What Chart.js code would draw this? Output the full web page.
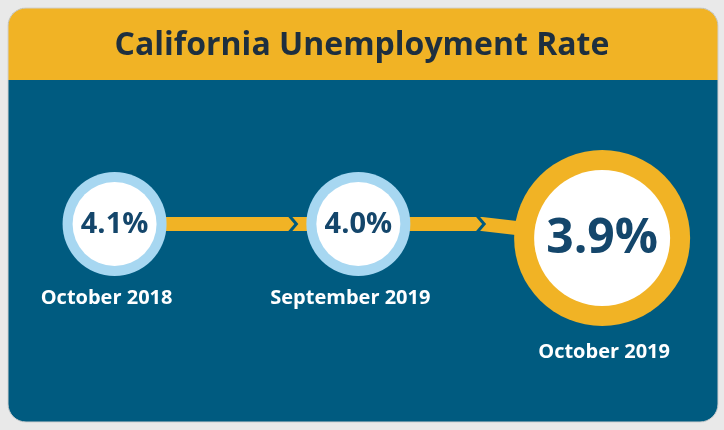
<!DOCTYPE html>
<html><head><meta charset="utf-8">
<script src="https://cdn.jsdelivr.net/npm/chart.js@4"></script>
<style>html,body{margin:0;padding:0;background:#e9e9e9}#c{display:block}</style>
</head><body>
<div style="width:724px;height:430px"><canvas id="c" width="724" height="430"></canvas></div>
<script>
const title = 'California Unemployment Rate';
const periods = ['October 2018', 'September 2019', 'October 2019'];
const rates = [4.1, 4.0, 3.9];

const YELLOW = '#f1b325', BLUE = '#005b80', RING = '#a7d7f1', TEXT = '#14466b';

function rr(ctx, x, y, w, h, r) {
  ctx.beginPath();
  ctx.moveTo(x + r, y); ctx.arcTo(x + w, y, x + w, y + h, r);
  ctx.arcTo(x + w, y + h, x, y + h, r); ctx.arcTo(x, y + h, x, y, r);
  ctx.arcTo(x, y, x + w, y, r); ctx.closePath();
}

const infographic = {
  id: 'infographic',
  beforeDatasetsDraw(chart) {
    const ctx = chart.ctx;
    const pts = chart.getDatasetMeta(0).data;
    ctx.save();
    ctx.fillStyle = '#e9e9e9'; ctx.fillRect(0, 0, 724, 430);
    // card
    rr(ctx, 8, 8, 710, 414, 18); ctx.fillStyle = BLUE; ctx.fill();
    ctx.save(); rr(ctx, 8, 8, 710, 414, 18); ctx.clip();
    ctx.fillStyle = YELLOW; ctx.fillRect(8, 8, 710, 72); ctx.restore();
    rr(ctx, 8, 8, 710, 414, 18); ctx.strokeStyle = '#d0d0d0'; ctx.lineWidth = 1; ctx.stroke();
    ctx.fillStyle = '#1e2f3f'; ctx.font = 'bold 32px "Open Sans", sans-serif';
    ctx.textAlign = 'center'; ctx.textBaseline = 'middle';
    ctx.fillText(title, 362, 46);

    const pos = pts.map((p, i) => ({ x: p.x, y: p.y + (i === pts.length - 1 ? 14 : 0), big: i === pts.length - 1 }));
    // connectors
    ctx.strokeStyle = YELLOW; ctx.lineWidth = 14; ctx.lineCap = 'butt';
    for (let i = 0; i < pos.length - 1; i++) {
      const a = pos[i], b = pos[i + 1];
      ctx.beginPath(); ctx.moveTo(a.x, a.y);
      if (b.y !== a.y) { ctx.lineTo(b.x - 120, a.y); ctx.lineTo(b.x, b.y); }
      else ctx.lineTo(b.x, b.y);
      ctx.stroke();
      const cx = b.x - (b.big ? 122 : 66), cy = a.y;
      ctx.fillStyle = BLUE; ctx.beginPath();
      ctx.moveTo(cx - 4, cy - 7); ctx.lineTo(cx, cy - 7); ctx.lineTo(cx + 6, cy);
      ctx.lineTo(cx, cy + 7); ctx.lineTo(cx - 4, cy + 7); ctx.lineTo(cx + 2, cy); ctx.closePath(); ctx.fill();
    }
    // circles
    pos.forEach((p, i) => {
      const ro = p.big ? 88 : 52, ri = p.big ? 68 : 42;
      ctx.fillStyle = p.big ? YELLOW : RING;
      ctx.beginPath(); ctx.arc(p.x, p.y, ro, 0, Math.PI * 2); ctx.fill();
      ctx.fillStyle = '#fff';
      ctx.beginPath(); ctx.arc(p.x, p.y, ri, 0, Math.PI * 2); ctx.fill();
      ctx.fillStyle = TEXT;
      ctx.font = 'bold ' + (p.big ? 48 : 29) + 'px "Open Sans", sans-serif';
      ctx.fillText(rates[i].toFixed(1) + '%', p.x, p.y + 1);
      ctx.fillStyle = '#fff'; ctx.font = 'bold 20px "Open Sans", sans-serif';
      ctx.fillText(periods[i], p.x + (p.big ? 2 : -8), p.y + (p.big ? 114 : 74));
    });
    ctx.restore();
  }
};

new Chart(document.getElementById('c'), {
  type: 'scatter',
  data: { datasets: [{ data: rates.map((r, i) => ({ x: i, y: 0 })), pointRadius: 0 }] },
  options: {
    responsive: false, animation: false,
    layout: { padding: 0 },
    plugins: { legend: { display: false }, tooltip: { enabled: false } },
    scales: {
      x: { type: 'linear', min: -0.47, max: 2.5, display: false },
      y: { min: -0.92, max: 1, display: false }
    }
  },
  plugins: [infographic]
});
</script>
</body></html>
